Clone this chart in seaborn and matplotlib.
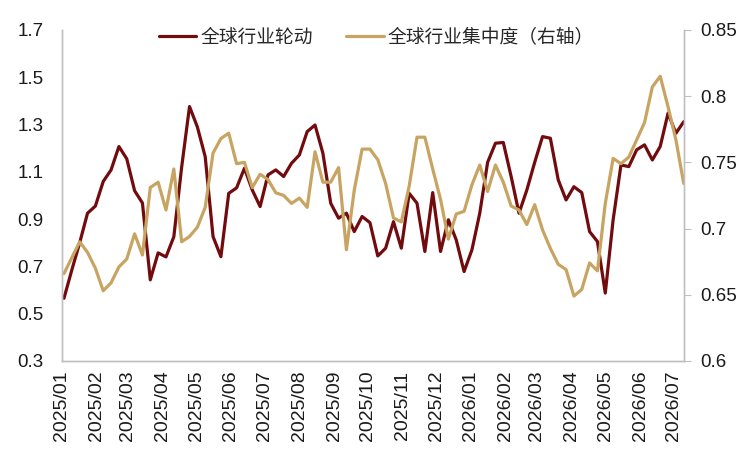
import pandas as pd
import matplotlib
matplotlib.use('Agg')
from matplotlib import pyplot as plt
import matplotlib.dates as mdates
import seaborn as sns

# Dados semanais
datas = pd.date_range('2025-01-03', periods=80, freq='7D')

rotacao = [0.565, 0.685, 0.80, 0.925, 0.955, 1.059, 1.108, 1.207, 1.155, 1.02,
           0.968, 0.643, 0.757, 0.74, 0.825, 1.12, 1.376, 1.29, 1.164, 0.826,
           0.741, 1.009, 1.032, 1.115, 1.023, 0.953, 1.087, 1.108, 1.08, 1.136,
           1.171, 1.27, 1.298, 1.179, 0.967, 0.904, 0.925, 0.847, 0.911, 0.885,
           0.744, 0.777, 0.889, 0.777, 1.009, 0.967, 0.763, 1.012, 0.763, 0.897,
           0.812, 0.678, 0.77, 0.925, 1.14, 1.221, 1.224, 1.08, 0.925, 1.023,
           1.14, 1.249, 1.242, 1.066, 0.981, 1.037, 1.012, 0.847, 0.805, 0.587,
           0.897, 1.129, 1.122, 1.193, 1.214, 1.15, 1.207, 1.348, 1.263, 1.312]

concentracao = [0.666, 0.678, 0.690, 0.682, 0.670, 0.653, 0.659, 0.671, 0.677, 0.696,
                0.680, 0.731, 0.735, 0.714, 0.745, 0.690, 0.694, 0.701, 0.716, 0.757,
                0.768, 0.772, 0.749, 0.750, 0.731, 0.741, 0.737, 0.727, 0.725, 0.719,
                0.723, 0.716, 0.758, 0.735, 0.735, 0.746, 0.684, 0.729, 0.760, 0.760,
                0.752, 0.734, 0.708, 0.705, 0.732, 0.769, 0.769, 0.745, 0.722, 0.692,
                0.711, 0.713, 0.733, 0.748, 0.728, 0.748, 0.735, 0.717, 0.714, 0.703,
                0.718, 0.699, 0.685, 0.673, 0.669, 0.649, 0.654, 0.674, 0.668, 0.719,
                0.753, 0.749, 0.754, 0.767, 0.780, 0.807, 0.815, 0.792, 0.767, 0.734]

nome_rot = '全球行业轮动'
nome_conc = '全球行业集中度（右轴）'

cor_rot = '#720B0E'
cor_conc = '#C8A462'
cinza = '#BFBFBF'

sns.set_style('white')
plt.rcParams['font.family'] = ['Liberation Sans', 'Noto Sans CJK SC', 'DejaVu Sans']

df = pd.DataFrame({'data': datas, 'rot': rotacao, 'conc': concentracao})

fig, ax = plt.subplots(figsize=(7.44, 4.54), dpi=100)
fig.subplots_adjust(left=0.083, right=0.919, top=0.934, bottom=0.205)
ax2 = ax.twinx()

sns.lineplot(data=df, x='data', y='rot', ax=ax, color=cor_rot, linewidth=2.3, label=nome_rot, legend=False)
sns.lineplot(data=df, x='data', y='conc', ax=ax2, color=cor_conc, linewidth=2.3, label=nome_conc, legend=False)

ax.set_ylim(0.3, 1.7)
ax.set_yticks([0.3, 0.5, 0.7, 0.9, 1.1, 1.3, 1.5, 1.7])
ax.set_yticklabels(['0.3', '0.5', '0.7', '0.9', '1.1', '1.3', '1.5', '1.7'])
ax2.set_ylim(0.6, 0.85)
ax2.set_yticks([0.6, 0.65, 0.7, 0.75, 0.8, 0.85])
ax2.set_yticklabels(['0.6', '0.65', '0.7', '0.75', '0.8', '0.85'])

ax.set_xlim(pd.Timestamp('2025-01-01'), pd.Timestamp('2026-07-10'))
ax.xaxis.set_major_locator(mdates.MonthLocator())
ax.xaxis.set_major_formatter(mdates.DateFormatter('%Y/%m'))
ax.set_xlabel('')
ax.set_ylabel('')
ax2.set_ylabel('')

ax.tick_params(axis='x', labelrotation=90, labelsize=14, direction='inout', length=6, width=0.8, colors=cinza, labelcolor='#1a1a1a', pad=4)
ax.tick_params(axis='y', labelsize=13.5, length=0, labelcolor='#1a1a1a', pad=13)
ax2.tick_params(axis='y', labelsize=13.5, direction='out', length=5, width=0.8, colors=cinza, labelcolor='#1a1a1a', pad=7)

for a in (ax, ax2):
    a.spines['top'].set_visible(False)
    for s in ('left', 'right', 'bottom'):
        a.spines[s].set_color(cinza)
        a.spines[s].set_linewidth(1.0)
    a.grid(False)

h1, l1 = ax.get_legend_handles_labels()
h2, l2 = ax2.get_legend_handles_labels()
ax.legend(h1 + h2, l1 + l2, loc='center', bbox_to_anchor=(0.506, 0.978), ncol=2, frameon=False,
          prop={'family': ['Noto Sans CJK SC', 'DejaVu Sans'], 'size': 13.5},
          handlelength=2.0, handletextpad=0.2, columnspacing=1.8)

plt.savefig('out.png', dpi=100)
